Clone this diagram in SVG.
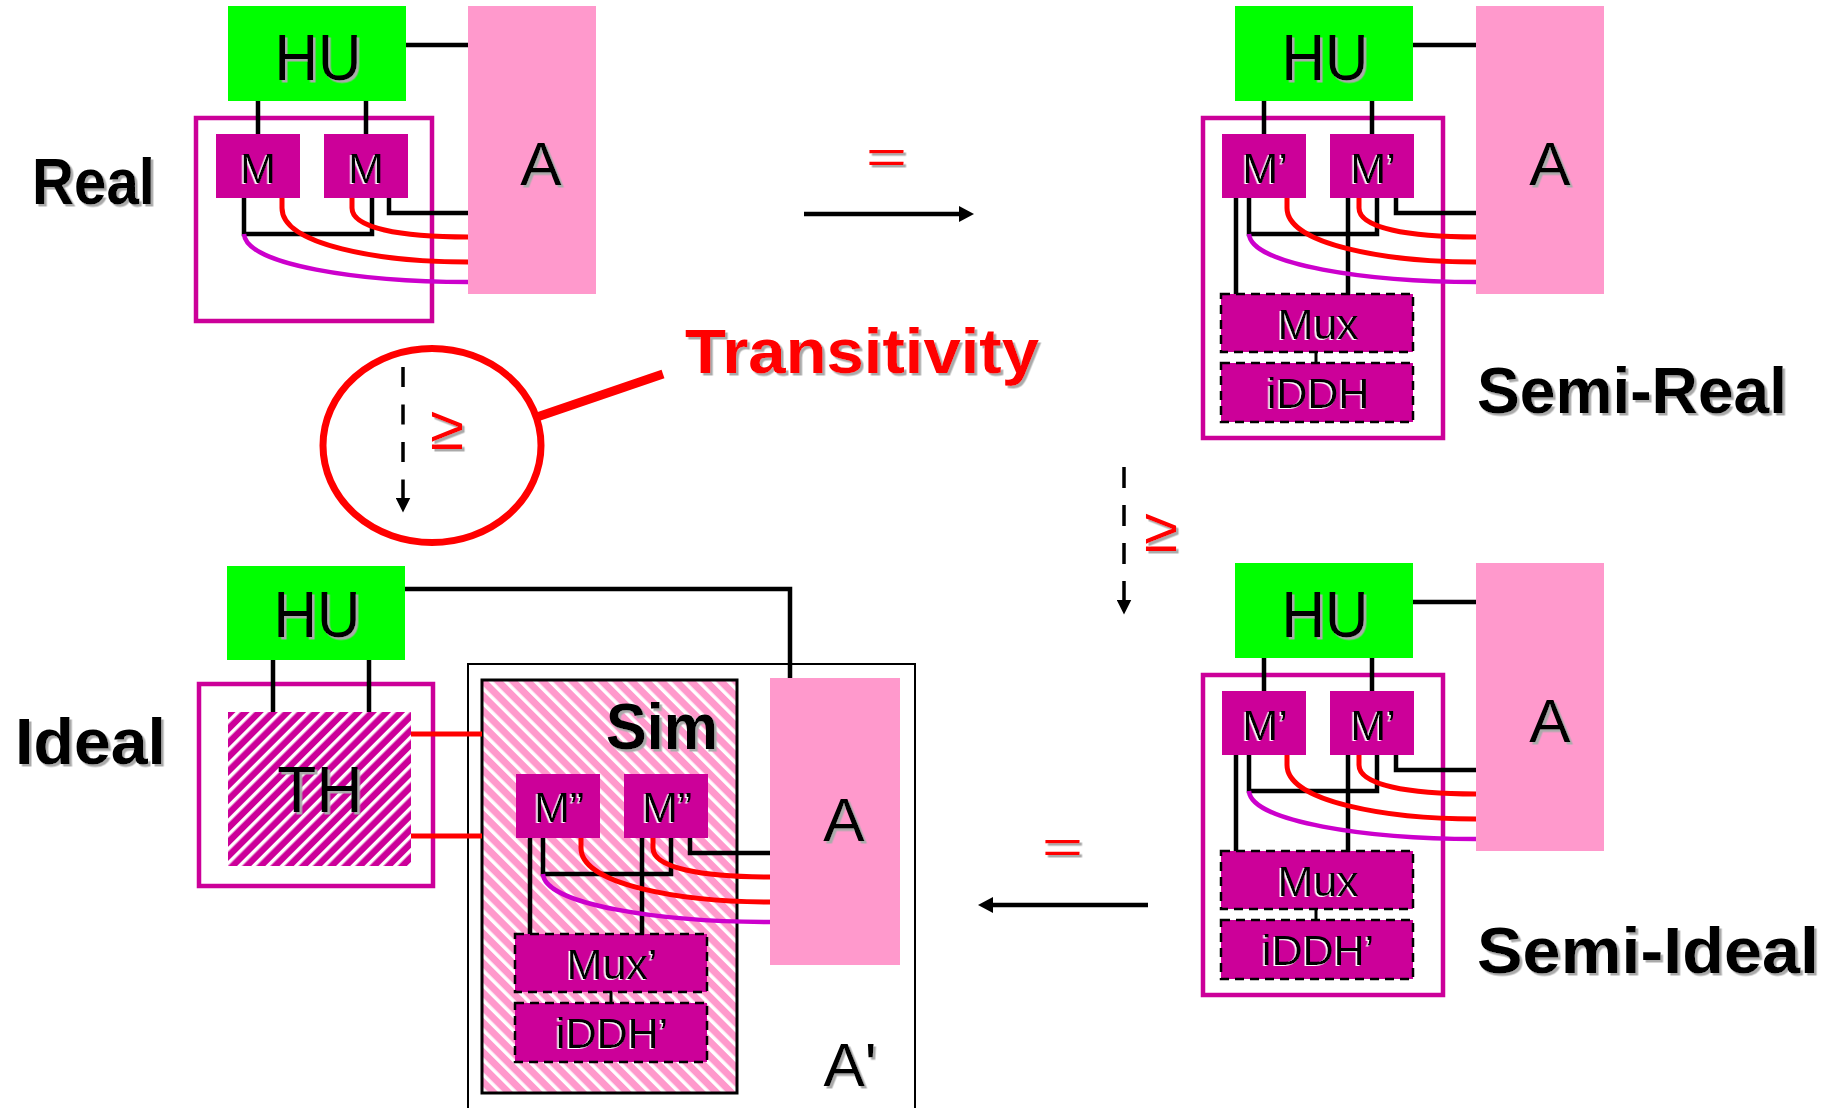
<svg xmlns="http://www.w3.org/2000/svg" width="1837" height="1108" viewBox="0 0 1837 1108">
<style>
.hu{fill:#00ff00}
.a{fill:#ff99cc}
.m{fill:#cc0099}
.mx{fill:#cc0099;stroke:#000;stroke-width:2.5;stroke-dasharray:9 6}
.box{fill:none;stroke:#cc0099;stroke-width:4.5}
.blk{fill:none;stroke:#000;stroke-width:4.5}
.thin{fill:none;stroke:#000;stroke-width:3}
.red{fill:none;stroke:#ff0000;stroke-width:5}
.pur{fill:none;stroke:#cc00cc;stroke-width:4.5}
.t{font-family:"Liberation Sans",Arial,sans-serif;fill:#000;filter:url(#sh)}
.big{font-family:"Liberation Sans",Arial,sans-serif;font-weight:bold;font-size:64px;fill:#000;filter:url(#sh)}
.hut{font-size:64px;text-anchor:middle}
.at{font-size:62px;text-anchor:middle}
.mt{font-family:"Liberation Sans",Arial,sans-serif;font-size:43px;text-anchor:middle;fill:#000;filter:url(#shw)}
.rt{font-family:"Liberation Sans",Arial,sans-serif;fill:#ff0000;filter:url(#sh)}
</style>
<defs>
<filter id="sh" x="-10%" y="-10%" width="130%" height="130%"><feDropShadow dx="2.5" dy="2.5" stdDeviation="0.5" flood-color="#aaaaaa"/></filter>
<filter id="shw" x="-10%" y="-10%" width="130%" height="130%"><feDropShadow dx="-1.5" dy="1" stdDeviation="0.3" flood-color="#ffffff"/></filter>
<pattern id="hatchTH" patternUnits="userSpaceOnUse" width="10" height="10" patternTransform="rotate(45)"><rect width="10" height="10" fill="#cc0099"/><rect width="3.5" height="10" fill="#ffffff"/></pattern>
<pattern id="hatchSim" patternUnits="userSpaceOnUse" width="10.5" height="10.5" patternTransform="rotate(-45)"><rect width="10.5" height="10.5" fill="#ff99cc"/><rect width="3.5" height="10.5" fill="#ffffff"/></pattern>
<marker id="ah" markerUnits="userSpaceOnUse" markerWidth="15" markerHeight="16" viewBox="0 0 15 16" refX="1" refY="8" orient="auto"><path d="M0,0 L15,8 L0,16 z" fill="#000"/></marker>
<marker id="ahd" markerUnits="userSpaceOnUse" markerWidth="15" markerHeight="15" viewBox="0 0 15 15" refX="0.5" refY="7.5" orient="auto"><path d="M0,0 L15,7.5 L0,15 z" fill="#000"/></marker>
</defs>
<rect width="1837" height="1108" fill="#fff"/>

<!-- containers -->
<g id="real-frame"><rect class="box" x="196" y="118" width="236" height="203"/></g>
<g id="semireal-frame"><rect class="box" x="1203" y="118" width="240" height="320"/></g>
<g id="semiideal-frame"><rect class="box" x="1203" y="675" width="240" height="320"/></g>
<g id="ideal-th-frame"><rect class="box" x="199" y="684" width="234" height="202"/></g>
<g id="ideal-aprime"><rect x="468" y="664" width="447" height="470" fill="none" stroke="#000" stroke-width="2"/><text class="t at" x="850" y="1086">A'</text></g>
<g id="ideal-sim"><rect x="482" y="680" width="255" height="413" fill="url(#hatchSim)" stroke="#000" stroke-width="3"/><text class="big" x="606" y="749" textLength="112" lengthAdjust="spacingAndGlyphs">Sim</text></g>

<!-- connectors -->
<g id="connectors">
  <!-- Real -->
  <path class="blk" d="M406 45 H468"/>
  <path class="blk" d="M258 101 V134 M366 101 V134"/>
  <path class="blk" d="M244 198 V234 H372 V198"/>
  <path class="blk" d="M389 198 V213 H468"/>
  <path class="red" d="M282 198 V208 C282 245 380 262 468 262"/>
  <path class="red" d="M352 198 V208 C352 228 400 237 468 237"/>
  <path class="pur" d="M244 234 C246 265 360 282 468 282"/>
  <!-- Semi-Real -->
  <path class="blk" d="M1413 45 H1476"/>
  <path class="blk" d="M1264 101 V134 M1372 101 V134"/>
  <path class="blk" d="M1236 198 V294 M1348 198 V294"/>
  <path class="blk" d="M1249 198 V234 H1377 V198"/>
  <path class="blk" d="M1396 198 V213 H1476"/>
  <path class="thin" d="M1316 352 V363"/>
  <path class="red" d="M1287 198 V208 C1287 245 1388 262 1476 262"/>
  <path class="red" d="M1359 198 V208 C1359 228 1408 237 1476 237"/>
  <path class="pur" d="M1249 234 C1251 265 1368 282 1476 282"/>
  <!-- Semi-Ideal -->
  <path class="blk" d="M1413 602 H1476"/>
  <path class="blk" d="M1264 658 V691 M1372 658 V691"/>
  <path class="blk" d="M1236 755 V851 M1348 755 V851"/>
  <path class="blk" d="M1249 755 V791 H1377 V755"/>
  <path class="blk" d="M1396 755 V770 H1476"/>
  <path class="thin" d="M1316 909 V920"/>
  <path class="red" d="M1287 755 V765 C1287 802 1388 819 1476 819"/>
  <path class="red" d="M1359 755 V765 C1359 785 1408 794 1476 794"/>
  <path class="pur" d="M1249 791 C1251 822 1368 839 1476 839"/>
  <!-- Ideal -->
  <path class="blk" d="M405 589 H790 V678"/>
  <path class="blk" d="M273 660 V712 M369 660 V712"/>
  <path class="red" d="M411 734 H482 M411 836 H482"/>
  <path class="blk" d="M530 838 V934 M642 838 V934"/>
  <path class="blk" d="M543 838 V874 H671 V838"/>
  <path class="blk" d="M690 838 V853 H770"/>
  <path class="thin" d="M611 992 V1003"/>
  <path class="red" d="M581 838 V848 C581 885 682 902 770 902"/>
  <path class="red" d="M653 838 V848 C653 868 702 877 770 877"/>
  <path class="pur" d="M543 874 C545 905 662 922 770 922"/>
  <!-- relations -->
  <path d="M804 214 H960" stroke="#000" stroke-width="4.5" marker-end="url(#ah)"/>
  <path d="M1148 905 H992" stroke="#000" stroke-width="4.5" marker-end="url(#ah)"/>
  <path d="M403 367 V498" stroke="#000" stroke-width="3.5" stroke-dasharray="20 17.5" marker-end="url(#ahd)"/>
  <path d="M1124 467 V600" stroke="#000" stroke-width="3.5" stroke-dasharray="21 17" marker-end="url(#ahd)"/>
  <path d="M537 417 L663 374" stroke="#ff0000" stroke-width="9"/>
</g>

<!-- Real nodes -->
<g id="real-hu"><rect class="hu" x="228" y="6" width="178" height="95"/><text class="t hut" x="318" y="80" textLength="87" lengthAdjust="spacingAndGlyphs">HU</text></g>
<g id="real-a"><rect class="a" x="468" y="6" width="128" height="288"/><text class="t at" x="541" y="185">A</text></g>
<g id="real-m1"><rect class="m" x="216" y="134" width="84" height="64"/><text class="mt" x="258" y="183">M</text></g>
<g id="real-m2"><rect class="m" x="324" y="134" width="84" height="64"/><text class="mt" x="366" y="183">M</text></g>
<g id="real-label"><text class="big" x="32" y="204" textLength="123" lengthAdjust="spacingAndGlyphs">Real</text></g>

<!-- Semi-Real nodes -->
<g id="semireal-hu"><rect class="hu" x="1235" y="6" width="178" height="95"/><text class="t hut" x="1325" y="80" textLength="87" lengthAdjust="spacingAndGlyphs">HU</text></g>
<g id="semireal-a"><rect class="a" x="1476" y="6" width="128" height="288"/><text class="t at" x="1550" y="185">A</text></g>
<g id="semireal-m1"><rect class="m" x="1222" y="134" width="84" height="64"/><text class="mt" x="1265" y="183">M’</text></g>
<g id="semireal-m2"><rect class="m" x="1330" y="134" width="84" height="64"/><text class="mt" x="1373" y="183">M’</text></g>
<g id="semireal-mux"><rect class="mx" x="1221" y="294" width="192" height="58"/><text class="mt" x="1318" y="339">Mux</text></g>
<g id="semireal-iddh"><rect class="mx" x="1221" y="363" width="192" height="59"/><text class="mt" x="1318" y="408">iDDH</text></g>
<g id="semireal-label"><text class="big" x="1477" y="413" textLength="310" lengthAdjust="spacingAndGlyphs">Semi-Real</text></g>

<!-- Semi-Ideal nodes -->
<g id="semiideal-hu"><rect class="hu" x="1235" y="563" width="178" height="95"/><text class="t hut" x="1325" y="637" textLength="87" lengthAdjust="spacingAndGlyphs">HU</text></g>
<g id="semiideal-a"><rect class="a" x="1476" y="563" width="128" height="288"/><text class="t at" x="1550" y="742">A</text></g>
<g id="semiideal-m1"><rect class="m" x="1222" y="691" width="84" height="64"/><text class="mt" x="1265" y="740">M’</text></g>
<g id="semiideal-m2"><rect class="m" x="1330" y="691" width="84" height="64"/><text class="mt" x="1373" y="740">M’</text></g>
<g id="semiideal-mux"><rect class="mx" x="1221" y="851" width="192" height="58"/><text class="mt" x="1318" y="896">Mux</text></g>
<g id="semiideal-iddh"><rect class="mx" x="1221" y="920" width="192" height="59"/><text class="mt" x="1318" y="965">iDDH’</text></g>
<g id="semiideal-label"><text class="big" x="1477" y="973" textLength="342" lengthAdjust="spacingAndGlyphs">Semi-Ideal</text></g>

<!-- Ideal nodes -->
<g id="ideal-hu"><rect class="hu" x="227" y="566" width="178" height="94"/><text class="t hut" x="317" y="637" textLength="87" lengthAdjust="spacingAndGlyphs">HU</text></g>
<g id="ideal-th"><rect x="228" y="712" width="183" height="154" fill="url(#hatchTH)"/><text class="t hut" x="320" y="812">TH</text></g>
<g id="ideal-a"><rect class="a" x="770" y="678" width="130" height="287"/><text class="t at" x="844" y="841">A</text></g>
<g id="ideal-m1"><rect class="m" x="516" y="774" width="84" height="64"/><text class="mt" x="559" y="822">M”</text></g>
<g id="ideal-m2"><rect class="m" x="624" y="774" width="84" height="64"/><text class="mt" x="667" y="822">M”</text></g>
<g id="ideal-mux"><rect class="mx" x="515" y="934" width="192" height="58"/><text class="mt" x="612" y="979">Mux’</text></g>
<g id="ideal-iddh"><rect class="mx" x="515" y="1003" width="192" height="59"/><text class="mt" x="612" y="1048">iDDH’</text></g>
<g id="ideal-label"><text class="big" x="15" y="764" textLength="151" lengthAdjust="spacingAndGlyphs">Ideal</text></g>

<!-- relation labels -->
<g id="transitivity"><ellipse cx="432" cy="445.5" rx="109" ry="97" fill="none" stroke="#ff0000" stroke-width="7"/><text class="rt" x="685" y="373" font-size="63" font-weight="bold" textLength="354" lengthAdjust="spacingAndGlyphs">Transitivity</text></g>
<g id="rel-labels">
  <text class="rt" x="866" y="173" font-size="46" textLength="41" lengthAdjust="spacingAndGlyphs">=</text>
  <text class="rt" x="1042" y="863" font-size="46" textLength="41" lengthAdjust="spacingAndGlyphs">=</text>
  <text class="rt" x="430" y="449" font-size="62">≥</text>
  <text class="rt" x="1144" y="551" font-size="62">≥</text>
</g>
</svg>
